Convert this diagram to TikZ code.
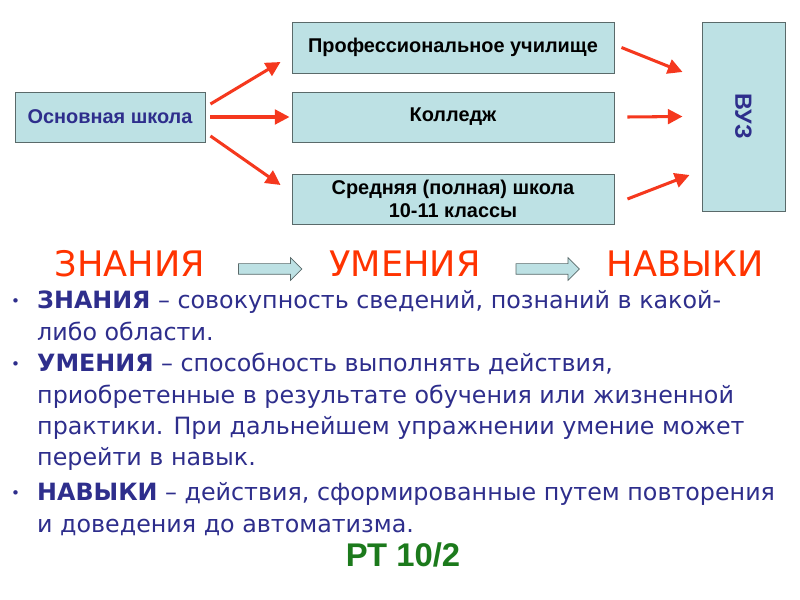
\documentclass[tikz,border=0pt]{standalone}
\usepackage{fontspec}
\setmainfont{DejaVu Sans}
\newfontfamily\boxfont{Liberation Sans}
\usepackage{xcolor}
\usetikzlibrary{positioning,calc,arrows.meta,shapes.arrows}

\definecolor{boxfill}{HTML}{BDE1E4}
\definecolor{boxline}{HTML}{5A6A6A}
\definecolor{arrred}{HTML}{F5381E}
\definecolor{wordred}{HTML}{FF3300}
\definecolor{navy}{HTML}{2E2E8C}
\definecolor{ptgreen}{HTML}{1C7A1C}

\begin{document}
\begin{tikzpicture}[
  x=0.03cm, y=-0.03cm,
  box/.style={draw=boxline, fill=boxfill, line width=0.8pt,
    font=\boxfont\bfseries\fontsize{17}{20}\selectfont, align=center},
  arr/.style={-{Triangle[length=0.44cm, width=0.44cm]}, line width=2.6pt, arrred},
  blockarr/.style={single arrow, draw=boxline, fill=boxfill, line width=0.6pt,
    inner xsep=0pt, inner ysep=0.15cm, single arrow head extend=0.18cm,
    minimum width=0.66cm, minimum height=1.9cm},
  word/.style={font=\fontsize{30}{34}\selectfont, wordred},
  para/.style={font=\fontsize{20.3}{26.5}\selectfont, navy, inner sep=0pt},
  dot/.style={font=\fontsize{13}{15}\selectfont, navy, inner sep=0pt}
]
\useasboundingbox (0,0) rectangle (800,600);

% ---- schools ----
\node[box, minimum width=5.7cm, minimum height=1.5cm, text=navy] (osn)
  at (110,117) {Основная школа};
\node[box, minimum width=9.66cm, minimum height=1.53cm] (prof)
  at (453,47.5) {Профессиональное училище};
\node[box, minimum width=9.66cm, minimum height=1.5cm] (kol)
  at (453,117) {Колледж};
\node[box, minimum width=9.66cm, minimum height=1.5cm] (sred)
  at (453,199) {Средняя (полная) школа\\10-11 классы};
\node[box, minimum width=2.49cm, minimum height=5.67cm] (vuz)
  at (743.5,116.5) {};
\node[box, draw=none, fill=none, text=navy, rotate=-90] at (vuz.center)
  {\fontsize{20}{22}\selectfont ВУЗ};

\draw[arr] ($(osn.east)+(5,-13)$) -- ($(prof.west)+(-11,14.5)$);
\draw[arr] ($(osn.east)+(5,0)$) -- ($(kol.west)+(-2,0)$);
\draw[arr] ($(osn.east)+(5,19)$) -- ($(sred.west)+(-11,-14)$);

\draw[arr] ($(prof.east)+(7,0)$) -- ($(vuz.west)+(-19,-44.5)$);
\draw[arr] ($(kol.east)+(13,0)$) -- ($(vuz.west)+(-19,0)$);
\draw[arr] ($(sred.east)+(13,0)$) -- ($(vuz.west)+(-12,58.5)$);

% ---- words ----
\node[word, anchor=base] (zn) at (130,277) {ЗНАНИЯ};
\node[word, anchor=base] (um) at (405,277) {УМЕНИЯ};
\node[word, anchor=base] (nav) at (685,277) {НАВЫКИ};
\node[blockarr] (b1) at (267.5,269) {};
\node[blockarr] (b2) at (545,269) {};

% ---- bullets ----
\node[dot, anchor=base west] at (11,307) {•};
\node[para, anchor=base west] (p1) at (37,309)
  {\begin{tabular}[t]{@{}l@{}}
   \textbf{ЗНАНИЯ} – совокупность сведений, познаний в какой-\\
   либо области.\end{tabular}};
\node[dot, anchor=base west] at (11,370) {•};
\node[para, anchor=base west] (p2) at (37,372)
  {\begin{tabular}[t]{@{}l@{}}
   \textbf{УМЕНИЯ} – способность выполнять действия,\\
   приобретенные в результате обучения или жизненной\\
   практики. При дальнейшем упражнении умение может\\
   перейти в навык.\end{tabular}};
\node[dot, anchor=base west] at (11,499) {•};
\node[para, anchor=base west] (p3) at (37,501)
  {\begin{tabular}[t]{@{}l@{}}
   \textbf{НАВЫКИ} – действия, сформированные путем повторения\\
   и доведения до автоматизма.\end{tabular}};

\node[font=\boxfont\bfseries\fontsize{28}{30}\selectfont, ptgreen]
  (rt) at (403,555) {РТ 10/2};
\end{tikzpicture}
\end{document}
